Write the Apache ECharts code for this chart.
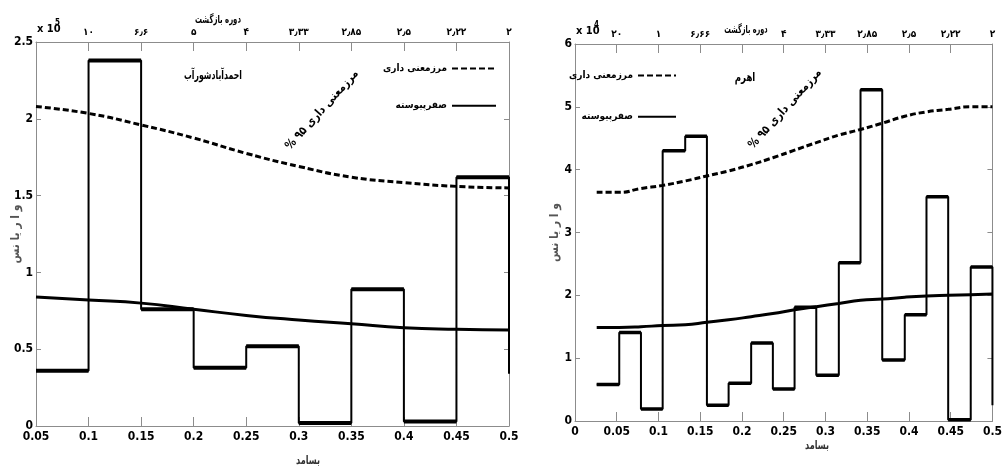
<!DOCTYPE html>
<html lang="fa">
<head>
<meta charset="UTF-8">
<script src="https://cdn.jsdelivr.net/npm/echarts@6/dist/echarts.min.js"></script>
<title>واریانس</title>
<style>
  html, body { margin: 0; padding: 0; background: #fff; }
  #chart { width: 1005px; height: 470px; }
</style>
</head>
<body>
<div id="chart"></div>
<script>
// ---- left panel: احمدآبادشورآب (x 10^5) ----
var freqL = [0.05, 0.1, 0.15, 0.2, 0.25, 0.3, 0.35, 0.4, 0.45, 0.5];
var varL = [0.36, 2.38, 0.76, 0.38, 0.52, 0.02, 0.89, 0.03, 1.62];
var tailL = 0.34;
var sigL = [2.08, 2.035, 1.96, 1.875, 1.775, 1.69, 1.62, 1.585, 1.56, 1.55];
var redL = [0.84, 0.82, 0.80, 0.76, 0.72, 0.69, 0.665, 0.64, 0.63, 0.625];
var topLabelsL = ['', '۱۰', '۶٫۶', '۵', '۴', '۳٫۳۳', '۲٫۸۵', '۲٫۵', '۲٫۲۲', '۲'];

// ---- right panel: اهرم (x 10^4) ----
var freqR = [0.026, 0.053, 0.079, 0.105, 0.132, 0.158, 0.184, 0.211, 0.237, 0.263,
             0.289, 0.316, 0.342, 0.368, 0.395, 0.421, 0.447, 0.474, 0.5];
var varR = [0.58, 1.41, 0.19, 4.30, 4.53, 0.25, 0.60, 1.24, 0.51, 1.81,
            0.73, 2.52, 5.27, 0.97, 1.69, 3.57, 0.02, 2.45];
var tailR = 0.25;
var sigR = [3.64, 3.64, 3.70, 3.75, 3.82, 3.90, 3.98, 4.08, 4.19, 4.31,
            4.43, 4.55, 4.64, 4.74, 4.85, 4.92, 4.96, 5.0, 5.0];
var redR = [1.49, 1.49, 1.50, 1.52, 1.53, 1.57, 1.61, 1.66, 1.71, 1.77,
            1.82, 1.87, 1.92, 1.94, 1.97, 1.99, 2.0, 2.01, 2.02];
var topLabelsR = ['', '۲۰', '۱', '۶٫۶۶', '', '۴', '۳٫۳۳', '۲٫۸۵', '۲٫۵', '۲٫۲۲', '۲'];

var NUM_FONT = "'Liberation Sans Narrow', 'DejaVu Sans Condensed', sans-serif";
var FA_FONT = "'DejaVu Sans Condensed', 'DejaVu Sans', sans-serif";
var AXIS_GRAY = '#8c8c8c';
var RLM = '\u200F';

function stepData(edges, vals, tail) {
  var d = [];
  for (var i = 0; i < vals.length; i++) d.push([edges[i], vals[i]]);
  d.push([edges[vals.length], vals[vals.length - 1]]);
  d.push([edges[vals.length], tail]);
  return d;
}
// thick horizontal tops of the stairs
function topsData(edges, vals) {
  var d = [];
  for (var i = 0; i < vals.length; i++) {
    d.push([edges[i], vals[i]], [edges[i + 1], vals[i]], [edges[i + 1], '-']);
  }
  return d;
}
function pairs(xs, ys) {
  return xs.map(function (x, i) { return [x, ys[i]]; });
}

function xAx(gi, pos, min, labels) {
  var ax = {
    type: 'value', gridIndex: gi, position: pos, min: min, max: 0.5, interval: 0.05,
    axisLine: { onZero: false, lineStyle: { color: AXIS_GRAY } },
    axisTick: { inside: true, length: 9, lineStyle: { color: AXIS_GRAY } },
    splitLine: { show: false },
    axisLabel: { color: '#000', fontFamily: NUM_FONT, fontWeight: 'bold', fontSize: 12, margin: 5 }
  };
  if (labels) {
    ax.axisLabel.fontFamily = FA_FONT;
    ax.axisLabel.fontSize = 10;
    ax.axisLabel.margin = 5;
    ax.axisLabel.formatter = function (v, i) { return labels[i] || ''; };
  }
  return ax;
}
function yAx(gi, pos, max, iv, showLabel) {
  return {
    type: 'value', gridIndex: gi, position: pos, min: 0, max: max, interval: iv,
    axisLine: { show: true, onZero: false, lineStyle: { color: AXIS_GRAY } },
    axisTick: { show: true, inside: true, length: 5, lineStyle: { color: AXIS_GRAY } },
    splitLine: { show: false },
    axisLabel: { show: showLabel, color: '#000', fontFamily: NUM_FONT, fontWeight: 'bold', fontSize: 12, margin: 3 },
    name: showLabel ? 'و ا ر یا نس' : '', nameLocation: 'middle', nameRotate: 90, nameGap: 14,
    nameMoveOverlap: false,
    nameTextStyle: { color: '#555', fontFamily: FA_FONT, fontWeight: 'bold', fontSize: 12 }
  };
}

function faText(x, y, text, size, sx, color, rot) {
  var t = { type: 'text', x: x, y: y, scaleX: sx,
    style: { text: text, align: 'center', verticalAlign: 'middle', font: 'bold ' + size + 'px ' + FA_FONT, fill: color || '#000' } };
  if (rot) t.rotation = rot * Math.PI / 180;
  return t;
}

var legendBase = {
  data: ['مرزمعنی داری', 'صفرپیوسته'], orient: 'vertical', align: 'right', padding: 0,
  itemHeight: 14, itemStyle: { opacity: 0 },
  textStyle: { fontFamily: FA_FONT, fontWeight: 'bold', fontSize: 10, color: '#000' }
};

var option = {
  backgroundColor: '#fff',
  animation: false,
  grid: [
    { left: 36, top: 42, right: 496, bottom: 44 },
    { left: 575, top: 44, right: 4, bottom: 49 }
  ],
  xAxis: [xAx(0, 'bottom', 0.05), xAx(0, 'top', 0.05, topLabelsL),
          xAx(1, 'bottom', 0), xAx(1, 'top', 0, topLabelsR)],
  yAxis: [yAx(0, 'left', 2.5, 0.5, true), yAx(0, 'right', 2.5, 0.5, false),
          yAx(1, 'left', 6, 1, true), yAx(1, 'right', 6, 1, false)],
  legend: [
    Object.assign({}, legendBase, { right: 508, top: 63, itemWidth: 44, itemGap: 26 }),
    Object.assign({}, legendBase, { right: 328, top: 70, itemWidth: 38, itemGap: 30 })
  ],
  graphic: [
    { type: 'text', x: 37, y: 24, style: { text: 'x 10', font: 'bold 11px ' + NUM_FONT, fill: '#000' } },
    { type: 'text', x: 55, y: 19, style: { text: '5', font: 'bold 8px ' + NUM_FONT, fill: '#000' } },
    { type: 'text', x: 576, y: 26, style: { text: 'x 10', font: 'bold 11px ' + NUM_FONT, fill: '#000' } },
    { type: 'text', x: 594, y: 21, style: { text: '4', font: 'bold 8px ' + NUM_FONT, fill: '#000' } },
    faText(218, 20, 'دوره بازگشت', 11, 0.7),
    faText(746, 30, 'دوره بازگشت', 11, 0.66),
    faText(213, 76, 'احمدآبادشورآب', 12, 0.72),
    faText(745, 78, 'اهرم', 12, 0.8),
    faText(322, 110, 'مرزمعنی داری ۹۵ %' + RLM, 12, 0.95, '#000', 48),
    faText(785, 109, 'مرزمعنی داری ۹۵ %' + RLM, 12, 0.95, '#000', 48),
    faText(308, 461, 'بسامد', 12, 0.75, '#333'),
    faText(817, 446, 'بسامد', 12, 0.75, '#333')
  ],
  series: [
    { type: 'line', xAxisIndex: 0, yAxisIndex: 0, step: 'end', symbol: 'none', silent: true,
      data: stepData(freqL, varL, tailL), lineStyle: { color: '#000', width: 2 } },
    { type: 'line', xAxisIndex: 0, yAxisIndex: 0, symbol: 'none', silent: true, connectNulls: false,
      data: topsData(freqL, varL), lineStyle: { color: '#000', width: 4 } },
    { name: 'مرزمعنی داری', type: 'line', xAxisIndex: 0, yAxisIndex: 0, symbol: 'none', smooth: true,
      data: pairs(freqL, sigL), lineStyle: { color: '#000', width: 3, type: [6, 3] }, itemStyle: { color: '#000' } },
    { name: 'صفرپیوسته', type: 'line', xAxisIndex: 0, yAxisIndex: 0, symbol: 'none', smooth: true,
      data: pairs(freqL, redL), lineStyle: { color: '#000', width: 3 }, itemStyle: { color: '#000' } },

    { type: 'line', xAxisIndex: 2, yAxisIndex: 2, step: 'end', symbol: 'none', silent: true,
      data: stepData(freqR, varR, tailR), lineStyle: { color: '#000', width: 2 } },
    { type: 'line', xAxisIndex: 2, yAxisIndex: 2, symbol: 'none', silent: true, connectNulls: false,
      data: topsData(freqR, varR), lineStyle: { color: '#000', width: 3.5 } },
    { name: 'مرزمعنی داری', type: 'line', xAxisIndex: 2, yAxisIndex: 2, symbol: 'none', smooth: true,
      data: pairs(freqR, sigR), lineStyle: { color: '#000', width: 3, type: [6, 3] }, itemStyle: { color: '#000' } },
    { name: 'صفرپیوسته', type: 'line', xAxisIndex: 2, yAxisIndex: 2, symbol: 'none', smooth: true,
      data: pairs(freqR, redR), lineStyle: { color: '#000', width: 3 }, itemStyle: { color: '#000' } }
  ]
};

var chart = echarts.init(document.getElementById('chart'));
chart.setOption(option);
</script>
</body>
</html>
